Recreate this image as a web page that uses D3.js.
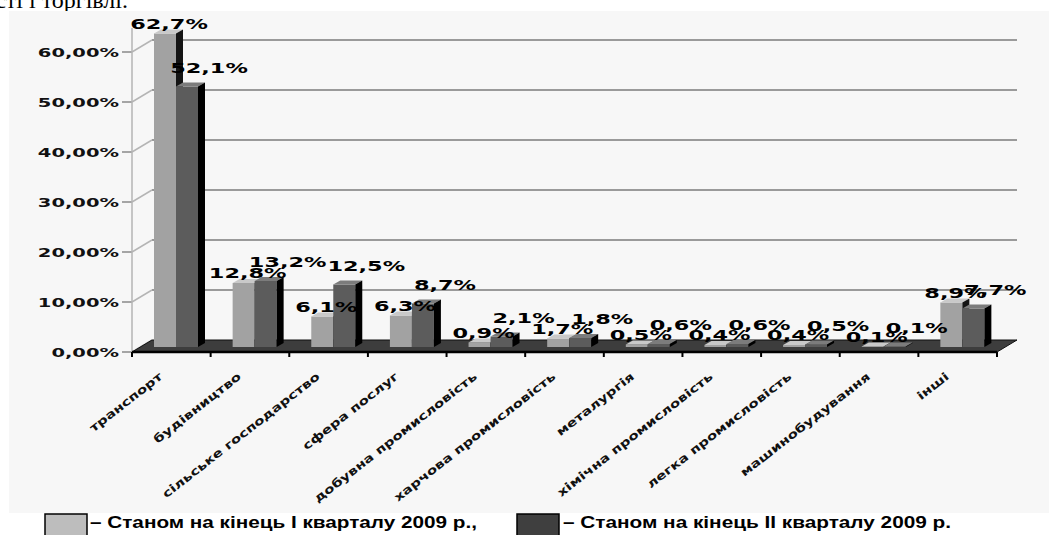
<!DOCTYPE html>
<html>
<head>
<meta charset="utf-8">
<script src="https://cdn.jsdelivr.net/npm/d3@7"></script>
<style>
  body { margin: 0; background: #fff; }
  svg { display: block; }
</style>
</head>
<body>
<div id="plot"></div>
<script>
var categories = ["транспорт", "будівництво", "сільське господарство", "сфера послуг",
  "добувна промисловість", "харчова промисловість", "металургія",
  "хімічна промисловість", "легка промисловість", "машинобудування", "інші"];
var q1Values = [62.7, 12.8, 6.1, 6.3, 0.9, 1.7, 0.5, 0.4, 0.4, 0.1, 8.9];
var q2Values = [52.1, 13.2, 12.5, 8.7, 2.1, 1.8, 0.6, 0.6, 0.5, 0.1, 7.7];
var yTicks = [0, 10, 20, 30, 40, 50, 60];
var seriesNames = ["– Станом на кінець І кварталу 2009 р.,", "– Станом на кінець ІІ кварталу 2009 р."];

var svgWidth = 1049;
var svgHeight = 535;

var svg = d3.select("#plot")
  .append("svg")
  .attr("width", svgWidth)
  .attr("height", svgHeight);

// leftover line of the document text above the chart
svg.append("text")
  .attr("x", 128)
  .attr("y", 8)
  .attr("text-anchor", "end")
  .attr("font-family", "Liberation Serif, Times New Roman, serif")
  .attr("font-size", "24px")
  .text("ості і торгівлі.");

// chart panel
svg.append("rect")
  .attr("x", 9).attr("y", 11)
  .attr("width", svgWidth - 9).attr("height", 502)
  .attr("fill", "#f7f7f7");

var x = d3.scaleBand().domain(categories).range([132, 997]);
var y = d3.scaleLinear().domain([0, 60]).range([352, 52]);
var sub = d3.scaleBand().domain([0, 1]).range([0, 44]);

// depth of the 3d box and of each column
var depth = { dx: 20, dy: -12 };
var col = { dx: 7, dy: -4, shiftX: 22, shiftY: -5 };

var fmt = function(v) { return d3.format(".1f")(v).replace(".", ",") + "%"; };
var fmtAxis = function(v) { return d3.format(".2f")(v).replace(".", ",") + "%"; };

var chart = svg.append("g");

// back wall gridlines and their connectors to the front axis
yTicks.forEach(function(t) {
  if (t > 0) {
    chart.append("line")
      .attr("x1", 132 + depth.dx).attr("x2", 997 + depth.dx)
      .attr("y1", y(t) + depth.dy).attr("y2", y(t) + depth.dy)
      .attr("stroke", "#9a9a9a").attr("stroke-width", 2);
  }
  chart.append("line")
    .attr("x1", 132).attr("y1", y(t))
    .attr("x2", 132 + depth.dx).attr("y2", y(t) + depth.dy)
    .attr("stroke", "#b5b5b5").attr("stroke-width", 1.5);
  chart.append("line")
    .attr("x1", 122).attr("x2", 132)
    .attr("y1", y(t)).attr("y2", y(t))
    .attr("stroke", "#8a8a8a").attr("stroke-width", 1.5);
  chart.append("g")
    .attr("transform", "translate(119," + (y(t) + 5) + ") scale(1.5,1)")
    .append("text")
    .attr("text-anchor", "end")
    .attr("font-family", "DejaVu Sans, Verdana, sans-serif")
    .attr("font-weight", "bold")
    .attr("font-size", "13px")
    .attr("fill", "#111")
    .text(fmtAxis(t));
});

// vertical axis line
chart.append("line")
  .attr("x1", 132).attr("x2", 132)
  .attr("y1", 28).attr("y2", y(0))
  .attr("stroke", "#b5b5b5").attr("stroke-width", 1.5);

// floor
var x0 = 132, x1 = 997, yf = y(0);
chart.append("path")
  .attr("d", "M" + x0 + "," + yf + "L" + x1 + "," + yf +
    "L" + (x1 + depth.dx) + "," + (yf + depth.dy) +
    "L" + (x0 + depth.dx) + "," + (yf + depth.dy) + "Z")
  .attr("fill", "#3d3d3d")
  .attr("stroke", "#111").attr("stroke-width", 1);
chart.append("line")
  .attr("x1", x0).attr("x2", x1)
  .attr("y1", yf).attr("y2", yf)
  .attr("stroke", "#000").attr("stroke-width", 2.5);

// category ticks
d3.range(categories.length + 1).forEach(function(i) {
  var tx = 132 + i * x.step();
  chart.append("line")
    .attr("x1", tx).attr("x2", tx)
    .attr("y1", yf).attr("y2", yf + 5)
    .attr("stroke", "#000").attr("stroke-width", 2);
});

var styles = [
  { front: "#a2a2a2", top: "#c9c9c9", side: "#141414" },
  { front: "#5c5c5c", top: "#7c7c7c", side: "#000000" }
];

var barData = [];
categories.forEach(function(c, i) {
  [q1Values[i], q2Values[i]].forEach(function(v, s) {
    barData.push({ cat: c, s: s, v: v });
  });
});

function drawBar(d) {
  var bx = x(d.cat) + col.shiftX + sub(d.s);
  var w = sub.bandwidth();
  var yb = y(0) + col.shiftY;
  var yt = y(d.v) + col.shiftY;
  var st = styles[d.s];
  var g = chart.append("g");
  g.append("rect")
    .attr("x", bx).attr("y", yt)
    .attr("width", w).attr("height", yb - yt)
    .attr("fill", st.front);
  g.append("path")
    .attr("d", "M" + bx + "," + yt + "L" + (bx + w) + "," + yt +
      "L" + (bx + w + col.dx) + "," + (yt + col.dy) +
      "L" + (bx + col.dx) + "," + (yt + col.dy) + "Z")
    .attr("fill", st.top);
  g.append("path")
    .attr("d", "M" + (bx + w) + "," + yt + "L" + (bx + w + col.dx) + "," + (yt + col.dy) +
      "L" + (bx + w + col.dx) + "," + (yb + col.dy) +
      "L" + (bx + w) + "," + yb + "Z")
    .attr("fill", st.side);
}
barData.forEach(drawBar);

// value labels
barData.forEach(function(d) {
  var bx = x(d.cat) + col.shiftX + sub(d.s) + sub.bandwidth() / 2;
  var yt = y(d.v) + col.shiftY;
  var lx = d.s === 0 ? bx + 4 : bx + 22;
  var ly = d.s === 0 ? yt - 5 : yt - 14;
  chart.append("g")
    .attr("transform", "translate(" + lx + "," + ly + ") scale(1.6,1)")
    .append("text")
    .attr("text-anchor", "middle")
    .attr("font-family", "DejaVu Sans, Verdana, sans-serif")
    .attr("font-weight", "bold")
    .attr("font-size", "14px")
    .attr("fill", "#000")
    .text(fmt(d.v));
});

// category labels
categories.forEach(function(c) {
  var cx = x(c) + x.bandwidth() / 2 - 8;
  chart.append("g")
    .attr("transform", "translate(" + cx + ",378) rotate(-38) scale(1.3,1)")
    .append("text")
    .attr("text-anchor", "end")
    .attr("font-family", "DejaVu Sans, Verdana, sans-serif")
    .attr("font-weight", "bold")
    .attr("font-size", "11.5px")
    .attr("fill", "#111")
    .text(c);
});

// legend
var legend = [
  { x: 45, fill: "#bdbdbd", tx: 90, len: 387 },
  { x: 517, fill: "#3f3f3f", tx: 563, len: 388 }
];
legend.forEach(function(l, i) {
  svg.append("rect")
    .attr("x", l.x).attr("y", 514)
    .attr("width", 42).attr("height", 24)
    .attr("fill", l.fill)
    .attr("stroke", "#000").attr("stroke-width", 1.5);
  svg.append("text")
    .attr("x", l.tx).attr("y", 528)
    .attr("font-family", "Liberation Sans, Arial, sans-serif")
    .attr("font-weight", "bold")
    .attr("font-size", "16px")
    .attr("textLength", l.len)
    .attr("lengthAdjust", "spacingAndGlyphs")
    .text(seriesNames[i]);
});
</script>
</body>
</html>
